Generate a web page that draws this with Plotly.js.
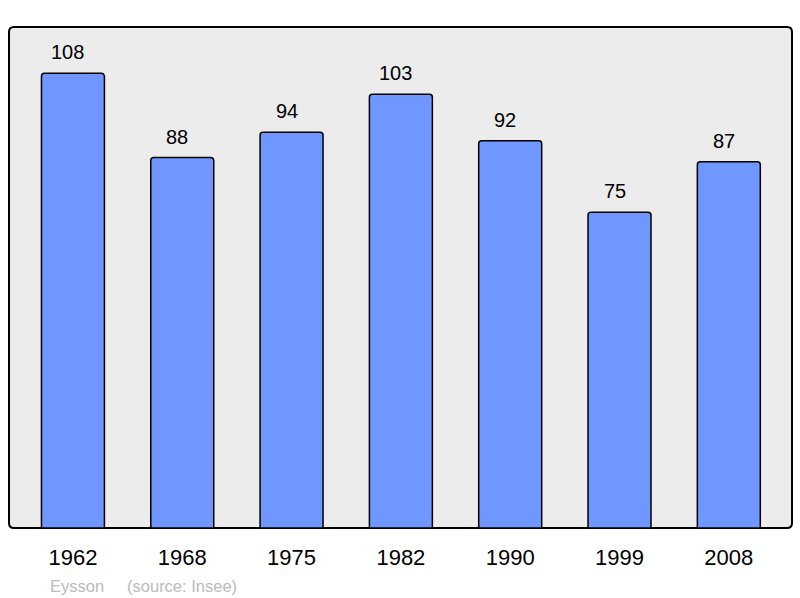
<!DOCTYPE html>
<html>
<head>
<meta charset="utf-8">
<script src="https://cdn.plot.ly/plotly-3.0.1.min.js"></script>
<style>
  body { margin: 0; background: #fff; }
  #chart { width: 800px; height: 598px; }
</style>
</head>
<body>
<div id="chart"></div>
<script>
var years = ['1962', '1968', '1975', '1982', '1990', '1999', '2008'];
var population = [108, 88, 94, 103, 92, 75, 87];
var pos = [0, 1, 2, 3, 4, 5, 6];

var graphDiv = document.getElementById('chart');
var font = 'Liberation Sans, Arial, sans-serif';

var data = [{
    x: pos,
    y: population,
    type: 'bar',
    width: 0.576,
    marker: {color: '#7096ff', line: {color: '#000', width: 1.5}, cornerradius: 3},
    hoverinfo: 'skip'
}];

// value labels above each bar (sit a little left of the bar centre, like the original)
var labels = [];
for (var i = 0; i < pos.length; i++) {
    labels.push({
        x: pos[i], y: population[i], text: String(population[i]),
        showarrow: false, yanchor: 'bottom', yshift: 8, xshift: -5,
        font: {family: font, size: 20, color: '#000'}
    });
}
labels.push({
    xref: 'paper', yref: 'paper', x: 0.05, y: -0.094, xanchor: 'left', yanchor: 'top',
    showarrow: false, text: 'Eysson&nbsp;&nbsp;&nbsp;&nbsp;&nbsp;(source: Insee)',
    font: {family: font, size: 16.5, color: '#bbbbbb'}
});

// rounded frame in paper coords
var rx = 5 / 783, ry = 5 / 501;
var frame = 'M ' + rx + ',0 L ' + (1 - rx) + ',0 Q 1,0 1,' + ry +
    ' L 1,' + (1 - ry) + ' Q 1,1 ' + (1 - rx) + ',1 L ' + rx + ',1 Q 0,1 0,' + (1 - ry) +
    ' L 0,' + ry + ' Q 0,0 ' + rx + ',0 Z';

var layout = {
    width: 800, height: 598,
    margin: {l: 9, r: 8, t: 27, b: 70},
    paper_bgcolor: '#fff',
    plot_bgcolor: 'rgba(0,0,0,0)',
    showlegend: false,
    xaxis: {
        range: [-0.585, 6.578], tickvals: pos, ticktext: years,
        showgrid: false, zeroline: false, showline: false, ticks: '',
        tickfont: {family: font, size: 22, color: '#000'},
        ticklabelstandoff: 14, fixedrange: true
    },
    yaxis: {
        range: [0, 119], showgrid: false, zeroline: false, showline: false,
        showticklabels: false, ticks: '', fixedrange: true
    },
    shapes: [{
        type: 'path', xref: 'paper', yref: 'paper', path: frame,
        fillcolor: '#ececec', line: {color: '#000', width: 2}, layer: 'below'
    }],
    annotations: labels
};

Plotly.newPlot(graphDiv, data, layout, {displayModeBar: false, staticPlot: true});
</script>
</body>
</html>
